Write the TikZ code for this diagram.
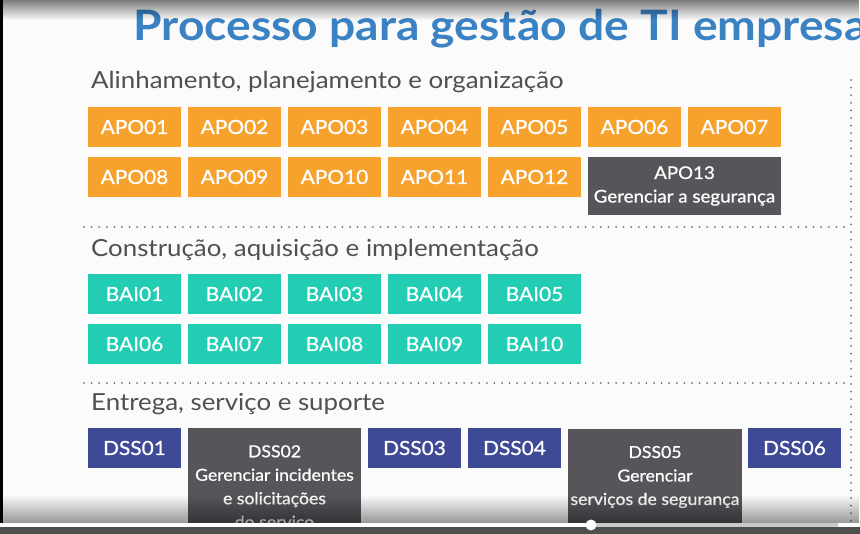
\documentclass[tikz,border=0pt]{standalone}
\usepackage{fontspec}
\setmainfont{Lato}
\newfontfamily\titlefam{Lato}[FakeStretch=1.1]
\newfontfamily\headfam{Lato}[FakeStretch=1.1]
\newfontfamily\cellfam{Lato}[FakeStretch=1.07, FakeBold=0.8]
\usetikzlibrary{fadings}

\definecolor{pagebg}{HTML}{FBFBFB}
\definecolor{titleblue}{HTML}{3A82C3}
\definecolor{headgray}{HTML}{505050}
\definecolor{apoorange}{HTML}{F6A22D}
\definecolor{baiteal}{HTML}{22CDB4}
\definecolor{dssblue}{HTML}{3F4A96}
\definecolor{govgray}{HTML}{57555A}
\definecolor{dotgray}{HTML}{707070}
\definecolor{barlight}{HTML}{C8C8C8}
\definecolor{bardark}{HTML}{4E4E4E}

\newcommand{\titlefont}{\titlefam\fontsize{42}{46}\selectfont\bfseries}
\newcommand{\headfont}{\headfam\fontsize{23.5}{28}\selectfont}
\newcommand{\cellfont}{\cellfam\fontsize{19.5}{23}\selectfont}
\newcommand{\subfont}{\cellfam\fontsize{16.5}{23.5}\selectfont}

\begin{document}
\begin{tikzpicture}[x=1pt,y=-1pt,
  cell/.style={rectangle, minimum width=93pt, minimum height=40pt, inner sep=0pt,
    text=white, font=\cellfont},
  apo/.style={cell, fill=apoorange},
  bai/.style={cell, fill=baiteal},
  dss/.style={cell, fill=dssblue},
  gov/.style={cell, fill=govgray, align=center, font=\subfont},
  heading/.style={anchor=base west, inner sep=0pt, text=headgray, font=\headfont},
  sep/.style={draw=dotgray, line width=2pt, line cap=round, dash pattern=on 0pt off 7.6pt}]

\useasboundingbox (0,0) rectangle (860,534);
\begin{scope}
\clip (0,0) rectangle (860,534);
\fill[pagebg] (0,0) rectangle (860,534);

% title (runs past the right edge of the slide)
\node[anchor=base west, inner sep=0pt, text=titleblue, font=\titlefont] (title)
  at (133,41) {Processo para gestão de TI empresa};

% section headings
\node[heading] (hapo) at (91,89) {Alinhamento, planejamento e organização};
\node[heading] (hbai) at (91,257) {Construção, aquisição e implementação};
\node[heading] (hdss) at (91,411) {Entrega, serviço e suporte};

% APO processes
\foreach \n [count=\i from 0] in {01,02,03,04,05,06,07}
  \node[apo] (apo\n) at (134.5+100*\i,127) {APO\n};
\foreach \n [count=\i from 0] in {08,09,10,11,12}
  \node[apo] (apo\n) at (134.5+100*\i,177) {APO\n};
\node[gov, font=\cellfam\fontsize{17.5}{23.5}\selectfont,
  minimum width=193pt, minimum height=58pt] (apo13) at (684.5,186)
  {APO13\\Gerenciar a segurança};

% BAI processes
\foreach \n [count=\i from 0] in {01,02,03,04,05}
  \node[bai] (bai\n) at (134.5+100*\i,294) {BAI\n};
\foreach \n [count=\i from 0] in {06,07,08,09,10}
  \node[bai] (bai\n) at (134.5+100*\i,344) {BAI\n};

% DSS processes
\node[dss] (dss01) at (134.5,448) {DSS01};
\node[gov, minimum width=173pt, minimum height=120pt] (dss02) at (274.5,488)
  {DSS02\\Gerenciar incidentes\\e solicitações\\do serviço};
\node[dss] (dss03) at (414.5,448) {DSS03};
\node[dss] (dss04) at (514.5,448) {DSS04};
\node[gov, minimum width=174pt, minimum height=96pt] (dss05) at (655,477)
  {DSS05\\Gerenciar\\serviços de segurança};
\node[dss] (dss06) at (794.5,448) {DSS06};

% dotted separators
\coordinate (s1a) at (84,227);
\coordinate (s1b) at (851,227);
\coordinate (s2a) at (84,383);
\coordinate (s2b) at (851,383);
\coordinate (vtop) at (851,80);
\coordinate (vbot) at (851,534);
\draw[sep] (s1a) -- (s1b);
\draw[sep] (s2a) -- (s2b);
\draw[sep] (vtop) -- (vbot);

% top shadow and left edge
\fill[black, path fading=south, fill opacity=0.5] (0,0) rectangle (860,20);
\fill[black] (0,0) rectangle (3,534);

% player controls overlay
\fill[black, path fading=north, fill opacity=0.4] (0,495) rectangle (860,523);
\fill[bardark] (0,527) rectangle (860,534);
\fill[barlight] (591,523) rectangle (838,527);
\fill[white] (0,523) rectangle (591,527);
\fill[white] (591,525) circle (5.5);
\end{scope}
\end{tikzpicture}
\end{document}
